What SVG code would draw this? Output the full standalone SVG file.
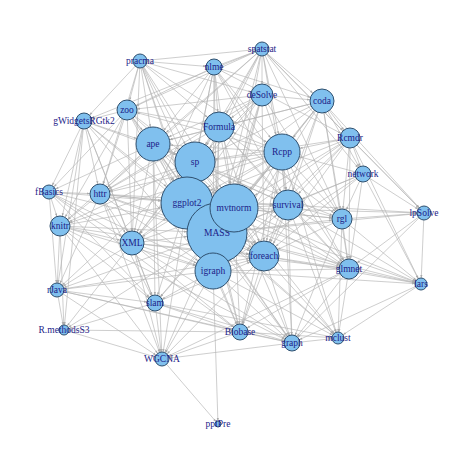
<svg xmlns="http://www.w3.org/2000/svg" width="474" height="474" viewBox="0 0 474 474">
<style>
.e line{stroke:#b3b3b3;stroke-width:0.65;fill:none}
.n circle{fill:#80C0EE;stroke:#2e4f6e;stroke-width:1}
.n text{font-family:"Liberation Serif","Times New Roman",serif;font-size:9.5px;fill:#1c1c88;text-anchor:middle}
.ah{fill:#aaaaaa}
</style>
<defs>
<marker id="m3" refX="3" refY="0" orient="auto" markerUnits="userSpaceOnUse" overflow="visible"><path class="ah" d="M-3,-1.1L0,0L-3,1.1z"/></marker>
<marker id="m5" refX="5" refY="0" orient="auto" markerUnits="userSpaceOnUse" overflow="visible"><path class="ah" d="M-3,-1.1L0,0L-3,1.1z"/></marker>
<marker id="m6" refX="6" refY="0" orient="auto" markerUnits="userSpaceOnUse" overflow="visible"><path class="ah" d="M-3,-1.1L0,0L-3,1.1z"/></marker>
<marker id="m7" refX="7" refY="0" orient="auto" markerUnits="userSpaceOnUse" overflow="visible"><path class="ah" d="M-3,-1.1L0,0L-3,1.1z"/></marker>
<marker id="m8" refX="8" refY="0" orient="auto" markerUnits="userSpaceOnUse" overflow="visible"><path class="ah" d="M-3,-1.1L0,0L-3,1.1z"/></marker>
<marker id="m10" refX="10" refY="0" orient="auto" markerUnits="userSpaceOnUse" overflow="visible"><path class="ah" d="M-3,-1.1L0,0L-3,1.1z"/></marker>
<marker id="m11" refX="11" refY="0" orient="auto" markerUnits="userSpaceOnUse" overflow="visible"><path class="ah" d="M-3,-1.1L0,0L-3,1.1z"/></marker>
<marker id="m12" refX="12" refY="0" orient="auto" markerUnits="userSpaceOnUse" overflow="visible"><path class="ah" d="M-3,-1.1L0,0L-3,1.1z"/></marker>
<marker id="m15" refX="15" refY="0" orient="auto" markerUnits="userSpaceOnUse" overflow="visible"><path class="ah" d="M-3,-1.1L0,0L-3,1.1z"/></marker>
<marker id="m17" refX="17" refY="0" orient="auto" markerUnits="userSpaceOnUse" overflow="visible"><path class="ah" d="M-3,-1.1L0,0L-3,1.1z"/></marker>
<marker id="m18" refX="18" refY="0" orient="auto" markerUnits="userSpaceOnUse" overflow="visible"><path class="ah" d="M-3,-1.1L0,0L-3,1.1z"/></marker>
<marker id="m20" refX="20" refY="0" orient="auto" markerUnits="userSpaceOnUse" overflow="visible"><path class="ah" d="M-3,-1.1L0,0L-3,1.1z"/></marker>
<marker id="m24" refX="24" refY="0" orient="auto" markerUnits="userSpaceOnUse" overflow="visible"><path class="ah" d="M-3,-1.1L0,0L-3,1.1z"/></marker>
<marker id="m26" refX="26" refY="0" orient="auto" markerUnits="userSpaceOnUse" overflow="visible"><path class="ah" d="M-3,-1.1L0,0L-3,1.1z"/></marker>
<marker id="m30" refX="30" refY="0" orient="auto" markerUnits="userSpaceOnUse" overflow="visible"><path class="ah" d="M-3,-1.1L0,0L-3,1.1z"/></marker>
</defs>
<rect width="474" height="474" fill="#ffffff"/>
<g id="connectors" class="e">
<g style="marker-end:url(#m7)">
<line x1="140" y1="61" x2="262" y2="49"/><line x1="214" y1="67" x2="262" y2="49"/>
</g>
<g style="marker-end:url(#m8)">
<line x1="140" y1="61" x2="214" y2="67"/>
</g>
<g style="marker-end:url(#m10)">
<line x1="140" y1="61" x2="127" y2="110"/><line x1="214" y1="67" x2="127" y2="110"/><line x1="262" y1="49" x2="127" y2="110"/><line x1="262" y1="95" x2="127" y2="110"/><line x1="282" y1="152" x2="127" y2="110"/>
</g>
<g style="marker-end:url(#m17)">
<line x1="140" y1="61" x2="153" y2="144"/><line x1="214" y1="67" x2="153" y2="144"/><line x1="262" y1="49" x2="153" y2="144"/><line x1="262" y1="95" x2="153" y2="144"/><line x1="322" y1="101" x2="153" y2="144"/><line x1="282" y1="152" x2="153" y2="144"/><line x1="127" y1="110" x2="153" y2="144"/><line x1="84" y1="121" x2="153" y2="144"/><line x1="219" y1="127" x2="153" y2="144"/>
</g>
<g style="marker-end:url(#m20)">
<line x1="140" y1="61" x2="195" y2="162"/><line x1="214" y1="67" x2="195" y2="162"/><line x1="262" y1="49" x2="195" y2="162"/><line x1="262" y1="95" x2="195" y2="162"/><line x1="322" y1="101" x2="195" y2="162"/><line x1="350" y1="138" x2="195" y2="162"/><line x1="282" y1="152" x2="195" y2="162"/><line x1="127" y1="110" x2="195" y2="162"/><line x1="84" y1="121" x2="195" y2="162"/><line x1="219" y1="127" x2="195" y2="162"/><line x1="153" y1="144" x2="195" y2="162"/>
</g>
<g style="marker-end:url(#m26)">
<line x1="140" y1="61" x2="187" y2="203"/><line x1="214" y1="67" x2="187" y2="203"/><line x1="262" y1="49" x2="187" y2="203"/><line x1="262" y1="95" x2="187" y2="203"/><line x1="322" y1="101" x2="187" y2="203"/><line x1="350" y1="138" x2="187" y2="203"/><line x1="282" y1="152" x2="187" y2="203"/><line x1="127" y1="110" x2="187" y2="203"/><line x1="84" y1="121" x2="187" y2="203"/><line x1="219" y1="127" x2="187" y2="203"/><line x1="153" y1="144" x2="187" y2="203"/><line x1="195" y1="162" x2="187" y2="203"/><line x1="49" y1="192" x2="187" y2="203"/><line x1="100" y1="194" x2="187" y2="203"/><line x1="60" y1="226" x2="187" y2="203"/><line x1="132" y1="243" x2="187" y2="203"/>
</g>
<g style="marker-end:url(#m15)">
<line x1="140" y1="61" x2="219" y2="127"/><line x1="214" y1="67" x2="219" y2="127"/><line x1="262" y1="49" x2="219" y2="127"/><line x1="262" y1="95" x2="219" y2="127"/><line x1="322" y1="101" x2="219" y2="127"/><line x1="282" y1="152" x2="219" y2="127"/><line x1="127" y1="110" x2="219" y2="127"/>
</g>
<g style="marker-end:url(#m30)">
<line x1="140" y1="61" x2="217" y2="233"/><line x1="214" y1="67" x2="217" y2="233"/><line x1="262" y1="49" x2="217" y2="233"/><line x1="262" y1="95" x2="217" y2="233"/><line x1="322" y1="101" x2="217" y2="233"/><line x1="350" y1="138" x2="217" y2="233"/><line x1="363" y1="174" x2="217" y2="233"/><line x1="282" y1="152" x2="217" y2="233"/><line x1="127" y1="110" x2="217" y2="233"/><line x1="84" y1="121" x2="217" y2="233"/><line x1="219" y1="127" x2="217" y2="233"/><line x1="153" y1="144" x2="217" y2="233"/><line x1="195" y1="162" x2="217" y2="233"/><line x1="49" y1="192" x2="217" y2="233"/><line x1="100" y1="194" x2="217" y2="233"/><line x1="60" y1="226" x2="217" y2="233"/><line x1="132" y1="243" x2="217" y2="233"/><line x1="187" y1="203" x2="217" y2="233"/><line x1="234" y1="208" x2="217" y2="233"/>
</g>
<g style="marker-end:url(#m24)">
<line x1="140" y1="61" x2="234" y2="208"/><line x1="214" y1="67" x2="234" y2="208"/><line x1="262" y1="49" x2="234" y2="208"/><line x1="262" y1="95" x2="234" y2="208"/><line x1="322" y1="101" x2="234" y2="208"/><line x1="350" y1="138" x2="234" y2="208"/><line x1="282" y1="152" x2="234" y2="208"/><line x1="127" y1="110" x2="234" y2="208"/><line x1="219" y1="127" x2="234" y2="208"/><line x1="153" y1="144" x2="234" y2="208"/><line x1="195" y1="162" x2="234" y2="208"/><line x1="100" y1="194" x2="234" y2="208"/><line x1="132" y1="243" x2="234" y2="208"/><line x1="187" y1="203" x2="234" y2="208"/>
</g>
<g style="marker-end:url(#m18)">
<line x1="140" y1="61" x2="282" y2="152"/><line x1="214" y1="67" x2="282" y2="152"/><line x1="262" y1="49" x2="282" y2="152"/><line x1="262" y1="95" x2="282" y2="152"/><line x1="322" y1="101" x2="282" y2="152"/><line x1="350" y1="138" x2="282" y2="152"/><line x1="363" y1="174" x2="282" y2="152"/>
</g>
<g style="marker-end:url(#m12)">
<line x1="140" y1="61" x2="132" y2="243"/><line x1="214" y1="67" x2="132" y2="243"/><line x1="262" y1="95" x2="132" y2="243"/><line x1="282" y1="152" x2="132" y2="243"/><line x1="127" y1="110" x2="132" y2="243"/><line x1="84" y1="121" x2="132" y2="243"/><line x1="219" y1="127" x2="132" y2="243"/><line x1="153" y1="144" x2="132" y2="243"/><line x1="195" y1="162" x2="132" y2="243"/><line x1="49" y1="192" x2="132" y2="243"/><line x1="100" y1="194" x2="132" y2="243"/><line x1="60" y1="226" x2="132" y2="243"/>
</g>
<g style="marker-end:url(#m10)">
<line x1="140" y1="61" x2="100" y2="194"/><line x1="262" y1="49" x2="100" y2="194"/><line x1="262" y1="95" x2="100" y2="194"/><line x1="282" y1="152" x2="100" y2="194"/><line x1="127" y1="110" x2="100" y2="194"/><line x1="84" y1="121" x2="100" y2="194"/><line x1="219" y1="127" x2="100" y2="194"/><line x1="153" y1="144" x2="100" y2="194"/><line x1="195" y1="162" x2="100" y2="194"/><line x1="49" y1="192" x2="100" y2="194"/>
</g>
<g style="marker-end:url(#m18)">
<line x1="140" y1="61" x2="213" y2="271"/><line x1="214" y1="67" x2="213" y2="271"/><line x1="262" y1="95" x2="213" y2="271"/><line x1="322" y1="101" x2="213" y2="271"/><line x1="350" y1="138" x2="213" y2="271"/><line x1="363" y1="174" x2="213" y2="271"/><line x1="282" y1="152" x2="213" y2="271"/><line x1="127" y1="110" x2="213" y2="271"/><line x1="84" y1="121" x2="213" y2="271"/><line x1="219" y1="127" x2="213" y2="271"/><line x1="153" y1="144" x2="213" y2="271"/><line x1="195" y1="162" x2="213" y2="271"/><line x1="49" y1="192" x2="213" y2="271"/><line x1="100" y1="194" x2="213" y2="271"/><line x1="60" y1="226" x2="213" y2="271"/><line x1="132" y1="243" x2="213" y2="271"/><line x1="187" y1="203" x2="213" y2="271"/><line x1="234" y1="208" x2="213" y2="271"/><line x1="217" y1="233" x2="213" y2="271"/>
</g>
<g style="marker-end:url(#m11)">
<line x1="140" y1="61" x2="262" y2="95"/><line x1="262" y1="49" x2="262" y2="95"/>
</g>
<g style="marker-end:url(#m8)">
<line x1="140" y1="61" x2="84" y2="121"/><line x1="262" y1="49" x2="84" y2="121"/><line x1="127" y1="110" x2="84" y2="121"/>
</g>
<g style="marker-end:url(#m15)">
<line x1="214" y1="67" x2="288" y2="205"/><line x1="262" y1="49" x2="288" y2="205"/><line x1="322" y1="101" x2="288" y2="205"/><line x1="350" y1="138" x2="288" y2="205"/><line x1="363" y1="174" x2="288" y2="205"/><line x1="282" y1="152" x2="288" y2="205"/><line x1="219" y1="127" x2="288" y2="205"/><line x1="153" y1="144" x2="288" y2="205"/><line x1="195" y1="162" x2="288" y2="205"/><line x1="100" y1="194" x2="288" y2="205"/><line x1="187" y1="203" x2="288" y2="205"/><line x1="234" y1="208" x2="288" y2="205"/><line x1="217" y1="233" x2="288" y2="205"/><line x1="213" y1="271" x2="288" y2="205"/>
</g>
<g style="marker-end:url(#m10)">
<line x1="214" y1="67" x2="349" y2="269"/><line x1="322" y1="101" x2="349" y2="269"/><line x1="350" y1="138" x2="349" y2="269"/><line x1="363" y1="174" x2="349" y2="269"/><line x1="282" y1="152" x2="349" y2="269"/><line x1="219" y1="127" x2="349" y2="269"/><line x1="195" y1="162" x2="349" y2="269"/><line x1="132" y1="243" x2="349" y2="269"/><line x1="187" y1="203" x2="349" y2="269"/><line x1="234" y1="208" x2="349" y2="269"/><line x1="217" y1="233" x2="349" y2="269"/><line x1="213" y1="271" x2="349" y2="269"/><line x1="288" y1="205" x2="349" y2="269"/><line x1="342" y1="219" x2="349" y2="269"/><line x1="424" y1="213" x2="349" y2="269"/><line x1="264" y1="256" x2="349" y2="269"/>
</g>
<g style="marker-end:url(#m12)">
<line x1="214" y1="67" x2="322" y2="101"/><line x1="262" y1="49" x2="322" y2="101"/><line x1="262" y1="95" x2="322" y2="101"/>
</g>
<g style="marker-end:url(#m10)">
<line x1="214" y1="67" x2="350" y2="138"/><line x1="262" y1="49" x2="350" y2="138"/><line x1="322" y1="101" x2="350" y2="138"/>
</g>
<g style="marker-end:url(#m8)">
<line x1="262" y1="49" x2="363" y2="174"/><line x1="322" y1="101" x2="363" y2="174"/><line x1="350" y1="138" x2="363" y2="174"/>
</g>
<g style="marker-end:url(#m7)">
<line x1="262" y1="49" x2="424" y2="213"/><line x1="322" y1="101" x2="424" y2="213"/><line x1="350" y1="138" x2="424" y2="213"/><line x1="363" y1="174" x2="424" y2="213"/><line x1="234" y1="208" x2="424" y2="213"/><line x1="217" y1="233" x2="424" y2="213"/><line x1="288" y1="205" x2="424" y2="213"/><line x1="342" y1="219" x2="424" y2="213"/>
</g>
<g style="marker-end:url(#m10)">
<line x1="262" y1="49" x2="342" y2="219"/><line x1="262" y1="95" x2="342" y2="219"/><line x1="322" y1="101" x2="342" y2="219"/><line x1="350" y1="138" x2="342" y2="219"/><line x1="363" y1="174" x2="342" y2="219"/><line x1="282" y1="152" x2="342" y2="219"/><line x1="219" y1="127" x2="342" y2="219"/><line x1="195" y1="162" x2="342" y2="219"/><line x1="187" y1="203" x2="342" y2="219"/><line x1="234" y1="208" x2="342" y2="219"/><line x1="217" y1="233" x2="342" y2="219"/><line x1="288" y1="205" x2="342" y2="219"/>
</g>
<g style="marker-end:url(#m15)">
<line x1="262" y1="95" x2="264" y2="256"/><line x1="322" y1="101" x2="264" y2="256"/><line x1="350" y1="138" x2="264" y2="256"/><line x1="363" y1="174" x2="264" y2="256"/><line x1="282" y1="152" x2="264" y2="256"/><line x1="219" y1="127" x2="264" y2="256"/><line x1="153" y1="144" x2="264" y2="256"/><line x1="195" y1="162" x2="264" y2="256"/><line x1="100" y1="194" x2="264" y2="256"/><line x1="60" y1="226" x2="264" y2="256"/><line x1="132" y1="243" x2="264" y2="256"/><line x1="187" y1="203" x2="264" y2="256"/><line x1="234" y1="208" x2="264" y2="256"/><line x1="217" y1="233" x2="264" y2="256"/><line x1="213" y1="271" x2="264" y2="256"/><line x1="57" y1="290" x2="264" y2="256"/><line x1="155" y1="303" x2="264" y2="256"/><line x1="288" y1="205" x2="264" y2="256"/><line x1="342" y1="219" x2="264" y2="256"/>
</g>
<g style="marker-end:url(#m6)">
<line x1="350" y1="138" x2="421" y2="284"/><line x1="363" y1="174" x2="421" y2="284"/><line x1="187" y1="203" x2="421" y2="284"/><line x1="234" y1="208" x2="421" y2="284"/><line x1="217" y1="233" x2="421" y2="284"/><line x1="213" y1="271" x2="421" y2="284"/><line x1="288" y1="205" x2="421" y2="284"/><line x1="342" y1="219" x2="421" y2="284"/><line x1="424" y1="213" x2="421" y2="284"/><line x1="264" y1="256" x2="421" y2="284"/><line x1="349" y1="269" x2="421" y2="284"/>
</g>
<g style="marker-end:url(#m10)">
<line x1="282" y1="152" x2="60" y2="226"/><line x1="127" y1="110" x2="60" y2="226"/><line x1="84" y1="121" x2="60" y2="226"/><line x1="153" y1="144" x2="60" y2="226"/><line x1="195" y1="162" x2="60" y2="226"/><line x1="49" y1="192" x2="60" y2="226"/><line x1="100" y1="194" x2="60" y2="226"/>
</g>
<g style="marker-end:url(#m8)">
<line x1="282" y1="152" x2="240" y2="332"/><line x1="195" y1="162" x2="240" y2="332"/><line x1="49" y1="192" x2="240" y2="332"/><line x1="132" y1="243" x2="240" y2="332"/><line x1="187" y1="203" x2="240" y2="332"/><line x1="234" y1="208" x2="240" y2="332"/><line x1="217" y1="233" x2="240" y2="332"/><line x1="213" y1="271" x2="240" y2="332"/><line x1="57" y1="290" x2="240" y2="332"/><line x1="155" y1="303" x2="240" y2="332"/><line x1="64" y1="330" x2="240" y2="332"/><line x1="288" y1="205" x2="240" y2="332"/><line x1="264" y1="256" x2="240" y2="332"/><line x1="349" y1="269" x2="240" y2="332"/>
</g>
<g style="marker-end:url(#m8)">
<line x1="282" y1="152" x2="292" y2="343"/><line x1="153" y1="144" x2="292" y2="343"/><line x1="60" y1="226" x2="292" y2="343"/><line x1="132" y1="243" x2="292" y2="343"/><line x1="187" y1="203" x2="292" y2="343"/><line x1="234" y1="208" x2="292" y2="343"/><line x1="217" y1="233" x2="292" y2="343"/><line x1="213" y1="271" x2="292" y2="343"/><line x1="57" y1="290" x2="292" y2="343"/><line x1="155" y1="303" x2="292" y2="343"/><line x1="288" y1="205" x2="292" y2="343"/><line x1="342" y1="219" x2="292" y2="343"/><line x1="424" y1="213" x2="292" y2="343"/><line x1="264" y1="256" x2="292" y2="343"/><line x1="349" y1="269" x2="292" y2="343"/><line x1="421" y1="284" x2="292" y2="343"/><line x1="240" y1="332" x2="292" y2="343"/>
</g>
<g style="marker-end:url(#m6)">
<line x1="282" y1="152" x2="338" y2="338"/><line x1="187" y1="203" x2="338" y2="338"/><line x1="234" y1="208" x2="338" y2="338"/><line x1="217" y1="233" x2="338" y2="338"/><line x1="213" y1="271" x2="338" y2="338"/><line x1="155" y1="303" x2="338" y2="338"/><line x1="288" y1="205" x2="338" y2="338"/><line x1="342" y1="219" x2="338" y2="338"/><line x1="264" y1="256" x2="338" y2="338"/><line x1="349" y1="269" x2="338" y2="338"/><line x1="421" y1="284" x2="338" y2="338"/><line x1="240" y1="332" x2="338" y2="338"/><line x1="292" y1="343" x2="338" y2="338"/>
</g>
<g style="marker-end:url(#m8)">
<line x1="282" y1="152" x2="155" y2="303"/><line x1="84" y1="121" x2="155" y2="303"/><line x1="153" y1="144" x2="155" y2="303"/><line x1="49" y1="192" x2="155" y2="303"/><line x1="100" y1="194" x2="155" y2="303"/><line x1="60" y1="226" x2="155" y2="303"/><line x1="132" y1="243" x2="155" y2="303"/><line x1="187" y1="203" x2="155" y2="303"/><line x1="217" y1="233" x2="155" y2="303"/><line x1="213" y1="271" x2="155" y2="303"/><line x1="57" y1="290" x2="155" y2="303"/>
</g>
<g style="marker-end:url(#m7)">
<line x1="127" y1="110" x2="49" y2="192"/><line x1="84" y1="121" x2="49" y2="192"/><line x1="153" y1="144" x2="49" y2="192"/>
</g>
<g style="marker-end:url(#m7)">
<line x1="84" y1="121" x2="57" y2="290"/><line x1="195" y1="162" x2="57" y2="290"/><line x1="49" y1="192" x2="57" y2="290"/><line x1="100" y1="194" x2="57" y2="290"/><line x1="60" y1="226" x2="57" y2="290"/><line x1="132" y1="243" x2="57" y2="290"/><line x1="217" y1="233" x2="57" y2="290"/><line x1="213" y1="271" x2="57" y2="290"/>
</g>
<g style="marker-end:url(#m5)">
<line x1="84" y1="121" x2="64" y2="330"/><line x1="60" y1="226" x2="64" y2="330"/><line x1="132" y1="243" x2="64" y2="330"/><line x1="217" y1="233" x2="64" y2="330"/><line x1="57" y1="290" x2="64" y2="330"/><line x1="155" y1="303" x2="64" y2="330"/>
</g>
<g style="marker-end:url(#m7)">
<line x1="153" y1="144" x2="162" y2="359"/><line x1="100" y1="194" x2="162" y2="359"/><line x1="60" y1="226" x2="162" y2="359"/><line x1="132" y1="243" x2="162" y2="359"/><line x1="187" y1="203" x2="162" y2="359"/><line x1="217" y1="233" x2="162" y2="359"/><line x1="213" y1="271" x2="162" y2="359"/><line x1="57" y1="290" x2="162" y2="359"/><line x1="155" y1="303" x2="162" y2="359"/><line x1="64" y1="330" x2="162" y2="359"/><line x1="264" y1="256" x2="162" y2="359"/><line x1="349" y1="269" x2="162" y2="359"/><line x1="240" y1="332" x2="162" y2="359"/><line x1="292" y1="343" x2="162" y2="359"/>
</g>
<g style="marker-end:url(#m3)">
<line x1="213" y1="271" x2="218" y2="424"/><line x1="162" y1="359" x2="218" y2="424"/>
</g>
</g>
<g id="pracma" class="n"><circle cx="140" cy="61" r="7"/><text x="140" y="64">pracma</text></g>
<g id="nlme" class="n"><circle cx="214" cy="67" r="8"/><text x="214" y="70">nlme</text></g>
<g id="spatstat" class="n"><circle cx="262" cy="49" r="7"/><text x="262" y="52">spatstat</text></g>
<g id="deSolve" class="n"><circle cx="262" cy="95" r="11"/><text x="262" y="98">deSolve</text></g>
<g id="coda" class="n"><circle cx="322" cy="101" r="12"/><text x="322" y="104">coda</text></g>
<g id="Rcmdr" class="n"><circle cx="350" cy="138" r="10"/><text x="350" y="141">Rcmdr</text></g>
<g id="network" class="n"><circle cx="363" cy="174" r="8"/><text x="363" y="177">network</text></g>
<g id="zoo" class="n"><circle cx="127" cy="110" r="10"/><text x="127" y="113">zoo</text></g>
<g id="gWidgetsRGtk2" class="n"><circle cx="84" cy="121" r="8"/><text x="84" y="124">gWidgetsRGtk2</text></g>
<g id="Formula" class="n"><circle cx="219" cy="127" r="15"/><text x="219" y="130">Formula</text></g>
<g id="ape" class="n"><circle cx="153" cy="144" r="17"/><text x="153" y="147">ape</text></g>
<g id="Rcpp" class="n"><circle cx="282" cy="152" r="18"/><text x="282" y="155">Rcpp</text></g>
<g id="sp" class="n"><circle cx="195" cy="162" r="20"/><text x="195" y="165">sp</text></g>
<g id="fBasics" class="n"><circle cx="49" cy="192" r="7"/><text x="49" y="195">fBasics</text></g>
<g id="httr" class="n"><circle cx="100" cy="194" r="10"/><text x="100" y="197">httr</text></g>
<g id="knitr" class="n"><circle cx="60" cy="226" r="10"/><text x="60" y="229">knitr</text></g>
<g id="XML" class="n"><circle cx="132" cy="243" r="12"/><text x="132" y="246">XML</text></g>
<g id="survival" class="n"><circle cx="288" cy="205" r="15"/><text x="288" y="208">survival</text></g>
<g id="rgl" class="n"><circle cx="342" cy="219" r="10"/><text x="342" y="222">rgl</text></g>
<g id="lpSolve" class="n"><circle cx="424" cy="213" r="7"/><text x="424" y="216">lpSolve</text></g>
<g id="foreach" class="n"><circle cx="264" cy="256" r="15"/><text x="264" y="259">foreach</text></g>
<g id="glmnet" class="n"><circle cx="349" cy="269" r="10"/><text x="349" y="272">glmnet</text></g>
<g id="lars" class="n"><circle cx="421" cy="284" r="6"/><text x="421" y="287">lars</text></g>
<g id="ggplot2" class="n"><circle cx="187" cy="203" r="26"/><text x="187" y="206">ggplot2</text></g>
<g id="MASS" class="n"><circle cx="217" cy="233" r="30"/><text x="217" y="236">MASS</text></g>
<g id="mvtnorm" class="n"><circle cx="234" cy="208" r="24"/><text x="234" y="211">mvtnorm</text></g>
<g id="igraph" class="n"><circle cx="213" cy="271" r="18"/><text x="213" y="274">igraph</text></g>
<g id="rJava" class="n"><circle cx="57" cy="290" r="7"/><text x="57" y="293">rJava</text></g>
<g id="slam" class="n"><circle cx="155" cy="303" r="8"/><text x="155" y="306">slam</text></g>
<g id="R.methodsS3" class="n"><circle cx="64" cy="330" r="5"/><text x="64" y="333">R.methodsS3</text></g>
<g id="Biobase" class="n"><circle cx="240" cy="332" r="8"/><text x="240" y="335">Biobase</text></g>
<g id="graph" class="n"><circle cx="292" cy="343" r="8"/><text x="292" y="346">graph</text></g>
<g id="mclust" class="n"><circle cx="338" cy="338" r="6"/><text x="338" y="341">mclust</text></g>
<g id="WGCNA" class="n"><circle cx="162" cy="359" r="7"/><text x="162" y="362">WGCNA</text></g>
<g id="ppiPre" class="n"><circle cx="218" cy="424" r="3"/><text x="218" y="427">ppiPre</text></g>
</svg>
